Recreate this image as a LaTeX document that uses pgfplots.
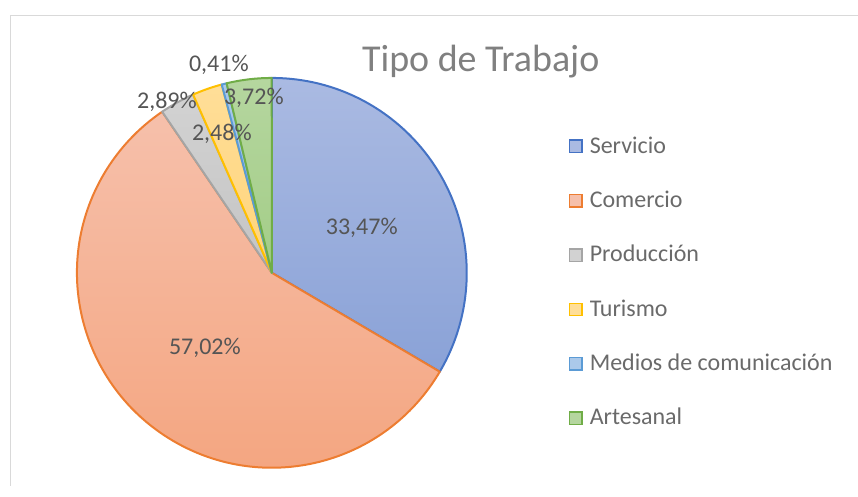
\documentclass[border=0pt]{standalone}
\usepackage{fontspec}
\setmainfont{Carlito}
\usepackage{pgfplots}
\usepackage{pgfplotstable}
\pgfplotsset{compat=1.18}

\definecolor{servtop}{HTML}{AABAE2}
\definecolor{servbot}{HTML}{8AA2D7}
\definecolor{servline}{HTML}{4472C4}
\definecolor{comtop}{HTML}{F6C0AB}
\definecolor{combot}{HTML}{F4A47E}
\definecolor{comline}{HTML}{ED7D31}
\definecolor{prodtop}{HTML}{D2D2D2}
\definecolor{prodbot}{HTML}{C4C4C4}
\definecolor{prodline}{HTML}{A5A5A5}
\definecolor{turtop}{HTML}{FFDE98}
\definecolor{turbot}{HTML}{FFD47A}
\definecolor{turline}{HTML}{FFC000}
\definecolor{medtop}{HTML}{ABC9EA}
\definecolor{medbot}{HTML}{91B9E1}
\definecolor{medline}{HTML}{5B9BD5}
\definecolor{arttop}{HTML}{B5D69F}
\definecolor{artbot}{HTML}{A3CD87}
\definecolor{artline}{HTML}{70AD47}
\definecolor{titlegrey}{HTML}{808080}
\definecolor{leggrey}{HTML}{6A6A6A}
\definecolor{labgrey}{HTML}{555555}
\definecolor{framegrey}{HTML}{D9D9D9}

% value in percent, label baseline in picture pixels (y down)
\pgfplotstableread[col sep=comma]{
name,val,key,lx,ly
Servicio,33.47,serv,362,235
Comercio,57.02,com,205,355
Producción,2.89,prod,167,109
Turismo,2.48,tur,222,141
Medios de comunicación,0.41,med,219,72
Artesanal,3.72,art,254,105
}\pietable

\newcommand\pxfont[1]{\fontsize{#1bp}{#1bp}\selectfont}

\begin{document}
\begin{tikzpicture}
\begin{axis}[
  x=1bp, y=1bp, xmin=0, xmax=858, ymin=0, ymax=486,
  hide axis, clip=false,
  /pgf/number format/assume math mode=true,
  legend image code/.code={\draw[#1, line width=1.4bp] (0bp,0.5bp) rectangle (12.5bp,13bp);},
  legend style={at={(axis cs:569,350)}, anchor=north west, draw=none, fill=none,
    inner sep=0pt, row sep=32.4bp, column sep=7bp,
    font=\pxfont{24}, text=leggrey,
    nodes={inner xsep=0pt, inner ysep=0pt, text height=17bp, text depth=5bp, anchor=base west}},
]
\path (axis cs:0,0) rectangle (axis cs:858,486);
% frame
\draw[framegrey, line width=1bp] (axis cs:11,0) -- (axis cs:11,470) -- (axis cs:858,470);

\def\cum{0}
\pgfplotsforeachungrouped \i in {0,...,5}{
  \pgfplotstablegetelem{\i}{val}\of\pietable \let\v\pgfplotsretval
  \pgfplotstablegetelem{\i}{key}\of\pietable \let\k\pgfplotsretval
  \pgfplotstablegetelem{\i}{name}\of\pietable \let\nm\pgfplotsretval
  \pgfmathsetmacro\a{90-3.6*\cum}
  \pgfmathsetmacro\b{90-3.6*(\cum+\v)}
  \edef\cmd{\noexpand\draw[line width=2bp, line join=round, draw=\k line, top color=\k top, bottom color=\k bot]
    (axis cs:272,213) -- ++(\a:195bp) arc[start angle=\a, end angle=\b, radius=195bp] -- cycle;
    \noexpand\addlegendimage{draw=\k line, fill=\k top}
    \noexpand\addlegendentry{\nm}}
  \cmd
  \pgfmathsetmacro\cum{\cum+\v}
}
% data labels, drawn over the slices
\pgfplotsforeachungrouped \i in {0,...,5}{
  \pgfplotstablegetelem{\i}{val}\of\pietable \let\v\pgfplotsretval
  \pgfplotstablegetelem{\i}{lx}\of\pietable \let\lx\pgfplotsretval
  \pgfplotstablegetelem{\i}{ly}\of\pietable \pgfmathsetmacro\ly{486-\pgfplotsretval}
  \edef\cmd{\noexpand\node[anchor=base, inner sep=0pt, text=labgrey, font=\noexpand\pxfont{24}]
    at (axis cs:\lx,\ly) {\noexpand\pgfmathprintnumber[fixed, fixed zerofill, precision=2, use comma, assume math mode=true]{\v}\noexpand\%};}
  \cmd
}
\node[anchor=base, text=titlegrey, font=\pxfont{38}, inner sep=0pt] at (axis cs:481,414) {Tipo de Trabajo};
\end{axis}
\end{tikzpicture}
\end{document}
